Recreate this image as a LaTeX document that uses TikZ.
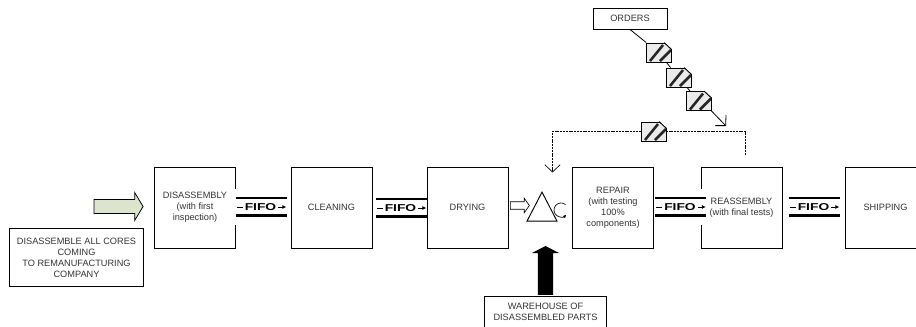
\documentclass[tikz,border=0pt]{standalone}
\usepackage{fontspec}
\setmainfont{Liberation Sans}
\usetikzlibrary{arrows.meta,shapes.arrows,shapes.geometric}
\definecolor{coregreen}{HTML}{DDE3CC}
\tikzset{
  txt/.style={font=\fontsize{6.9}{8.25}\selectfont, text=black!80, align=center},
  stepbox/.style={draw, line width=.7pt, txt, minimum width=60.75pt, minimum height=60.75pt, inner sep=0pt},
  notebox/.style={draw, line width=.7pt, txt, inner sep=0pt},
  fifobox/.style={fill=white, minimum width=39pt, minimum height=27pt, inner sep=0pt},
  kanban/.style={draw, line width=.7pt, fill=black!8, minimum width=18.75pt, minimum height=14.25pt, inner sep=0pt,
    path picture={
      \draw[line width=1.9pt, black!85] ([shift={(-6.4pt,-6.4pt)}]path picture bounding box.center) -- ([shift={(3.4pt,5.6pt)}]path picture bounding box.center);
      \draw[line width=1.9pt, black!85] ([shift={(1.1pt,-6.4pt)}]path picture bounding box.center) -- ([shift={(9.4pt,1.9pt)}]path picture bounding box.center);
    }},
  barb/.style={-{Straight Barb[length=5.5pt,width=11.5pt]}}
}
% card with its corner cut off
\newcommand{\kanbancard}[3]{
  \node[kanban] (#1) at (#2,#3) {};
  \fill[white] ([shift={(-5.6pt,.5pt)}]#1.north east) -- ([shift={(.5pt,.5pt)}]#1.north east) -- ([shift={(.5pt,-5.2pt)}]#1.north east) -- cycle;
  \draw[line width=.7pt] ([xshift=-5.6pt]#1.north east) -- ([yshift=-5.2pt]#1.north east);
}
\begin{document}
\begin{tikzpicture}[x=0.75pt,y=-0.75pt]
\def\rowy{207.5}
\useasboundingbox (0,0) rectangle (916,327);
\clip (0,0) rectangle (916,327);

% boxes
\node[stepbox] (disassembly) at (195,\rowy) {DISASSEMBLY\\(with first\\inspection)};
\node[stepbox] (cleaning) at (331.5,\rowy) {CLEANING};
\node[stepbox] (drying) at (467.5,\rowy) {DRYING};
\node[stepbox] (repair) at (613,\rowy) {REPAIR\\(with testing\\100\%\\components)};
\node[stepbox] (reassembly) at (741.5,\rowy) {REASSEMBLY\\(with final tests)};
\node[stepbox] (shipping) at (885.5,\rowy) {SHIPPING};
\node[notebox, minimum width=101pt, minimum height=44pt] (cores) at (76.5,257.5) {DISASSEMBLE ALL CORES\\COMING\\TO REMANUFACTURING\\COMPANY};
\node[notebox, minimum width=92pt, minimum height=24pt] (warehouse) at (545.5,312) {WAREHOUSE OF\\DISASSEMBLED PARTS};
\node[notebox, minimum width=55.5pt, minimum height=15.75pt] (orders) at (630,18.5) {ORDERS};

% block arrows
\node[draw, line width=.6pt, fill=coregreen, single arrow, inner sep=4.9pt, minimum height=36.75pt,
  single arrow head extend=5.25pt, single arrow tip angle=118] (corearrow) at (116.5,206.5) {};
\node[fill=black, single arrow, shape border rotate=90, inner sep=5.6pt, minimum height=36.75pt,
  single arrow head extend=4.5pt, single arrow tip angle=125] (partsarrow) at (545.5,272.5) {};
\node[draw, line width=.5pt, fill=white, single arrow, inner sep=2.6pt, minimum height=14.25pt,
  single arrow head extend=2.6pt, single arrow tip angle=110] (dryarrow) at (518.5,205.5) {};

% buffer
\node[draw, line width=.7pt, isosceles triangle, isosceles triangle stretches, shape border rotate=90, inner sep=0pt,
  minimum width=22.5pt, minimum height=21.75pt] (buffer) at (542,212) {};
\coordinate (cycle) at (565.5,204.6);
\draw[line width=.5pt, -{Latex[length=2.5pt,width=2.5pt]}] (cycle) arc[start angle=50, end angle=318, radius=5.25pt];

% fifo lanes
\foreach \name/\cx/\cy in {fifoa/260.5/207, fifob/400.5/208, fifoc/680/207, fifod/813.5/207} {
  \node[fifobox] (\name) at (\cx,\cy) {\scalebox{1.38}[1]{\fontsize{7.5}{9}\selectfont\bfseries FIFO}};
  \draw[line width=1.2pt] ([yshift=6.75pt,xshift=1pt]\name.west) -- ([yshift=6.75pt]\name.east);
  \draw[line width=1.7pt] ([yshift=-6.4pt,xshift=1pt]\name.west) -- ([yshift=-6.4pt]\name.east);
  \draw[line width=.7pt] ([xshift=2pt]\name.west) -- ([xshift=6.5pt]\name.west);
  \draw[line width=.7pt, -{Latex[length=3pt,width=3pt]}] ([xshift=-6.5pt]\name.east) -- ([xshift=-.3pt]\name.east);
}

% kanban cards
\kanbancard{carda}{658.5}{52.5}
\kanbancard{cardb}{678.5}{77.5}
\kanbancard{cardc}{698.5}{101}
\kanbancard{cardd}{653.5}{131.5}

% edges
\coordinate (ordersend) at (726,126);
\coordinate (loopstart) at (745,155);
\coordinate (loopend) at (552.5,172.5);
\draw[line width=.6pt] (orders.south) -- (carda);
\draw[line width=.6pt] (carda) -- (cardb);
\draw[line width=.6pt] (cardb) -- (cardc);
\draw[line width=.6pt, barb] (cardc.south east) -- (ordersend);
\draw[line width=.5pt, dash pattern=on 1.5pt off .6pt] (loopstart) |- (cardd.east);
\draw[line width=.5pt, dash pattern=on 1.5pt off .6pt, barb] (cardd.west) -| (loopend);
\end{tikzpicture}
\end{document}
